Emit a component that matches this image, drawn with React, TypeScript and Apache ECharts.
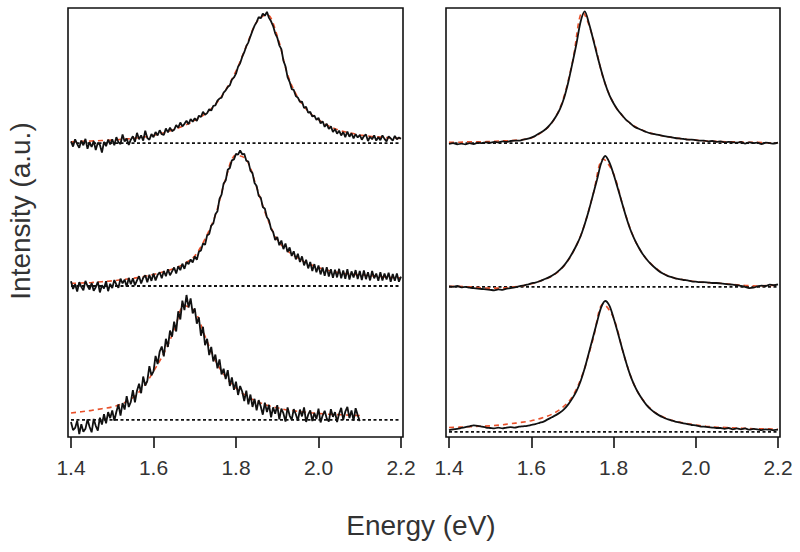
import React, { useEffect, useRef } from "react";
import * as echarts from "echarts";

// ---- axis ----
const X_MIN = 1.4;
const X_MAX = 2.2;
const X_TICK = 0.2;
const Y_MIN = 0;
const Y_MAX = 100;

// ---- sampling of the spectra (energy, eV) ----
const LEFT_START = 1.4;
const LEFT_STEP = 0.005;
const RIGHT_START = 1.4;
const RIGHT_STEP = 0.01;
const FIT_START = 1.4;
const FIT_STEP = 0.025;

// vertical offsets of the stacked spectra (a.u.)
const LEFT_OFFSETS = [68.5, 35.2, 4.0];
const RIGHT_OFFSETS = [68.5, 35.0, 1.2];

// ---- left panel measured spectra (a.u., relative to their baseline) ----
const LEFT_TOP = [
  0.4, -0.8, 0.9, -0.2, -1.1, 0.6, -0.5, 1.0, -1.3, 0.2,
  -0.9, 0.5, -1.6, 0.1, -0.4, -2.2, 0.3, -0.7, 0.8, -0.3,
  0.9, -0.5, 1.4, 0.2, -0.2, 2.0, 0.4, 1.1, -0.4, 0.8,
  1.6, 0.3, 2.4, 0.9, 1.8, 0.6, 2.9, 1.2, 0.8, 2.1,
  1.4, 2.6, 1.8, 3.0, 2.1, 1.9, 3.4, 2.5, 3.6, 2.8,
  3.1, 4.2, 3.6, 4.8, 3.9, 4.5, 5.2, 4.4, 5.6, 5.0,
  5.8, 5.2, 6.4, 6.1, 7.3, 6.6, 7.0, 7.9, 7.6, 8.7,
  8.8, 9.9, 10.4, 10.6, 11.8, 12.3, 13.1, 13.5, 14.8, 15.3,
  16.2, 17.8, 18.6, 20.1, 21.2, 22.6, 23.5, 24.9, 26.2, 27.4,
  28.2, 29.4, 29.1, 30.2, 29.7, 30.6, 29.2, 28.4, 27.3, 25.6,
  24.6, 22.8, 21.9, 19.2, 17.9, 15.4, 14.3, 12.6, 12.4, 11.0,
  10.6, 9.6, 9.7, 8.2, 8.5, 7.1, 7.3, 6.2, 6.4, 5.4,
  5.9, 4.6, 5.1, 3.8, 4.5, 3.3, 3.9, 2.6, 3.3, 2.2,
  2.9, 1.8, 2.6, 1.4, 2.7, 1.5, 2.3, 1.1, 2.1, 1.3,
  1.9, 0.8, 1.6, 2.0, 0.5, 1.5, 0.9, 1.8, 0.6, 1.4,
  0.7, 1.8, 1.0, 0.4, 1.6, 1.1, 0.6, 1.7, 0.9, 1.3,
  1.0,
];

const LEFT_MID = [
  1.1, -0.7, 0.4, -1.3, 0.9, -0.2, -1.0, 1.2, 0.0, -0.8,
  0.7, -1.1, -0.3, 1.0, -1.5, 0.2, -0.6, 1.1, -1.2, 0.5,
  -0.5, 1.4, 0.3, -0.4, 1.7, 0.6, 1.5, -0.2, 1.9, 0.4,
  1.8, 0.2, 1.3, 2.3, 0.6, 1.9, 2.5, 0.9, 2.6, 1.2,
  2.9, 1.3, 2.6, 3.2, 1.8, 3.5, 2.3, 3.9, 2.5, 3.4,
  4.3, 2.9, 4.6, 3.7, 5.2, 4.0, 5.6, 5.1, 6.2, 5.5,
  6.9, 6.1, 8.0, 8.3, 9.9, 9.6, 11.8, 12.1, 14.1, 14.6,
  16.7, 17.4, 20.3, 21.3, 23.9, 24.6, 27.1, 27.5, 29.3, 29.5,
  30.8, 30.6, 31.6, 30.7, 30.8, 29.2, 29.0, 26.9, 26.3, 24.0,
  23.3, 21.0, 20.6, 18.4, 18.0, 16.0, 15.3, 13.3, 12.6, 10.7,
  11.4, 9.5, 10.6, 8.6, 9.9, 7.9, 9.0, 7.0, 8.1, 6.2,
  7.5, 5.6, 6.9, 4.8, 6.1, 4.1, 5.6, 3.5, 5.1, 3.2,
  4.8, 2.7, 4.3, 2.4, 4.4, 2.2, 3.9, 1.9, 3.8, 2.0,
  4.0, 1.8, 3.6, 1.7, 3.9, 1.5, 3.4, 2.0, 3.7, 1.6,
  3.5, 1.4, 3.6, 1.6, 3.2, 1.3, 3.5, 1.8, 2.9, 1.2,
  3.2, 1.3, 2.9, 1.5, 3.1, 1.0, 2.8, 1.2, 2.9, 1.0,
  2.2,
];

const LEFT_BOT = [
  -0.5, -2.4, -1.9, -0.2, -3.3, -1.0, -2.8, -2.1, 0.1, -1.6,
  -2.9, 0.2, -1.4, -2.5, 0.5, -1.1, 1.3, -0.8, 1.8, 0.4,
  2.2, -0.2, 1.9, 3.6, 1.0, 3.9, 2.4, 5.5, 3.0, 4.2,
  6.9, 4.1, 6.8, 8.4, 6.2, 10.1, 8.0, 9.1, 12.5, 10.4,
  11.3, 14.9, 13.0, 15.9, 17.1, 14.8, 18.9, 17.0, 20.8, 19.4,
  22.9, 20.6, 25.3, 23.4, 27.8, 25.6, 29.1, 26.2, 28.3, 24.8,
  26.0, 22.4, 23.9, 19.6, 21.7, 17.4, 18.9, 15.1, 17.0, 13.6,
  15.2, 12.0, 14.1, 10.6, 11.9, 9.5, 11.6, 7.9, 9.9, 7.0,
  8.9, 5.8, 7.9, 6.6, 4.4, 6.8, 3.6, 5.9, 3.0, 4.9,
  2.2, 4.6, 3.1, 1.2, 4.0, 1.8, 3.5, 0.6, 2.9, 1.4,
  3.4, 0.1, 2.6, 1.5, -0.4, 2.9, 1.0, 0.0, 2.5, 1.3,
  -0.2, 2.4, 0.8, 2.9, -0.5, 1.2, 2.2, -0.3, 1.6, 0.2,
  2.6, -0.6, 1.0, 2.1, 0.3, -0.4, 2.5, 0.7, 1.8, -0.5,
  1.4, 2.8, 0.0, 1.9, 3.0, 0.4, 2.2, -0.2, 2.7, 1.1,
  -0.3,
];

// ---- right panel measured spectra ----
const RIGHT_TOP = [
  -0.2, 0.0, -0.3, -0.1, -0.3, 0.0, -0.2, 0.1, 0.0, 0.2,
  0.1, 0.3, 0.2, 0.4, 0.3, 0.5, 0.6, 0.6, 0.8, 1.0,
  1.3, 1.7, 2.3, 2.9, 3.7, 4.8, 6.2, 8.0, 10.6, 14.2,
  18.6, 23.2, 28.3, 30.7, 28.0, 24.4, 20.6, 17.0, 13.8, 11.2,
  9.3, 7.8, 6.6, 5.5, 4.7, 3.9, 3.4, 3.0, 2.6, 2.3,
  2.1, 1.9, 1.7, 1.5, 1.4, 1.2, 1.1, 1.0, 0.8, 0.8,
  0.7, 0.6, 0.6, 0.4, 0.5, 0.3, 0.4, 0.2, 0.3, 0.2,
  0.1, 0.3, -0.1, 0.2, 0.0, 0.1, -0.2, 0.1, 0.0, -0.1,
  0.1,
];

const RIGHT_MID = [
  0.1, 0.0, 0.2, -0.1, 0.0, -0.2, -0.3, -0.4, -0.5, -0.6,
  -0.7, -0.8, -0.6, -0.7, -0.4, -0.3, -0.1, 0.1, 0.3, 0.5,
  0.8, 1.0, 1.3, 1.7, 2.1, 2.6, 3.2, 4.0, 5.0, 6.3,
  7.9, 9.7, 11.8, 14.6, 17.8, 21.4, 25.0, 28.8, 30.5, 29.0,
  26.3, 23.1, 19.8, 16.5, 13.6, 11.3, 9.4, 7.8, 6.5, 5.4,
  4.5, 3.7, 3.1, 2.6, 2.3, 2.0, 1.8, 1.6, 1.5, 1.3,
  1.2, 1.1, 1.1, 1.0, 0.9, 0.9, 0.8, 0.7, 0.6, 0.5,
  0.4, 0.2, 0.0, -0.3, -0.2, 0.1, 0.3, 0.2, 0.5, 0.4,
  0.6,
];

const RIGHT_BOT = [
  0.4, 0.6, 0.7, 0.9, 1.1, 1.3, 1.5, 1.4, 1.2, 1.0,
  0.9, 0.8, 1.0, 0.8, 1.0, 1.1, 1.0, 1.2, 1.3, 1.4,
  1.6, 1.8, 2.1, 2.4, 2.9, 3.4, 3.9, 4.5, 5.3, 6.4,
  7.8, 9.5, 11.8, 14.8, 18.4, 22.0, 25.6, 29.0, 30.5, 29.4,
  26.6, 23.3, 19.8, 16.4, 13.4, 11.0, 9.1, 7.6, 6.3, 5.3,
  4.5, 3.9, 3.4, 3.0, 2.7, 2.4, 2.2, 2.0, 1.8, 1.6,
  1.5, 1.3, 1.2, 1.1, 1.0, 0.9, 0.9, 0.7, 0.9, 0.6,
  0.8, 0.6, 0.8, 0.5, 0.7, 0.6, 0.4, 0.6, 0.5, 0.4,
  0.5,
];

// ---- fitted curves (red dashed) ----
const LEFT_TOP_FIT = [
  0.3, 0.4, 0.5, 0.6, 0.7, 0.9, 1.1, 1.4, 1.8, 2.4,
  3.2, 4.1, 5.3, 6.8, 9.0, 12.4, 16.8, 22.6, 28.2, 30.0,
  25.0, 16.0, 10.6, 7.4, 5.5, 4.0, 3.0, 2.4, 1.9, 1.6,
  1.4, 1.2, 1.1,
];
const LEFT_MID_FIT = [
  0.6, 0.7, 0.8, 1.0, 1.2, 1.5, 1.8, 2.2, 2.7, 3.3,
  4.1, 5.2, 7.0, 11.0, 16.5, 25.0, 30.5, 29.5, 23.0, 16.0,
  10.8, 8.2, 6.5, 5.2, 4.3, 3.6, 3.1, 2.8, 2.6, 2.4,
  2.2, 2.0, 1.9,
];
const LEFT_BOT_FIT = [
  1.6, 1.9, 2.2, 2.6, 3.0, 3.8, 5.2, 7.6, 11.3, 15.5,
  20.8, 26.6, 25.3, 19.5, 13.8, 10.0, 7.4, 5.6, 4.3, 3.4,
  2.8, 2.3, 2.0, 1.7, 1.5, 1.3, 1.2, 1.1, 1.0,
];
const RIGHT_TOP_FIT = [
  0.2, 0.2, 0.3, 0.3, 0.4, 0.5, 0.6, 0.8, 1.2, 2.5,
  4.7, 9.5, 18.8, 30.5, 24.6, 15.2, 9.3, 6.0, 4.0, 2.8,
  2.1, 1.6, 1.2, 0.9, 0.7, 0.5, 0.4, 0.3, 0.3, 0.2,
  0.2, 0.1, 0.1,
];
const RIGHT_MID_FIT = [
  0.1, 0.1, 0.0, -0.2, -0.3, -0.3, -0.1, 0.2, 0.7, 1.5,
  2.5, 4.4, 7.8, 13.2, 21.4, 29.8, 26.4, 18.2, 11.3, 7.1,
  4.6, 2.9, 2.0, 1.6, 1.2, 1.0, 0.9, 0.7, 0.5, 0.3,
  0.2, 0.3, 0.4,
];
const RIGHT_BOT_FIT = [
  1.0, 1.1, 1.2, 1.3, 1.4, 1.6, 1.9, 2.2, 2.6, 3.2,
  4.1, 5.6, 8.2, 13.5, 21.5, 29.8, 26.6, 18.0, 11.0, 7.0,
  4.6, 3.3, 2.5, 2.0, 1.6, 1.3, 1.1, 1.0, 0.9, 0.8,
  0.7, 0.7, 0.6,
];

const X_LABEL = "Energy (eV)";
const Y_LABEL = "Intensity (a.u.)";

const FONT = "'Liberation Sans', Arial, Helvetica, sans-serif";
const TEXT_COLOR = "#333333";
const LINE_COLOR = "#111111";
const FIT_COLOR = "#e8502a";

function pairs(start: number, step: number, values: number[], offset: number) {
  return values.map((v, i) => [Number((start + i * step).toFixed(4)), v + offset]);
}

function panelSeries(
  axis: number,
  offsets: number[],
  spectra: number[][],
  fits: number[][],
  start: number,
  step: number,
  smooth: number | boolean
) {
  const out: any[] = [];
  offsets.forEach((off, k) => {
    out.push({
      type: "line",
      xAxisIndex: axis,
      yAxisIndex: axis,
      data: [
        [X_MIN, off],
        [X_MAX, off],
      ],
      symbol: "none",
      silent: true,
      z: 1,
      lineStyle: { color: LINE_COLOR, width: 1.8, type: [3, 2.5] },
    });
    out.push({
      type: "line",
      xAxisIndex: axis,
      yAxisIndex: axis,
      data: pairs(FIT_START, FIT_STEP, fits[k], off),
      symbol: "none",
      smooth: 0.35,
      silent: true,
      z: 2,
      lineStyle: { color: FIT_COLOR, width: 1.6, type: [5, 4] },
    });
    out.push({
      type: "line",
      xAxisIndex: axis,
      yAxisIndex: axis,
      data: pairs(start, step, spectra[k], off),
      symbol: "none",
      smooth,
      silent: true,
      z: 3,
      lineStyle: { color: LINE_COLOR, width: 1.8 },
    });
  });
  return out;
}

function makeX(gridIndex: number) {
  return {
    type: "value",
    gridIndex,
    min: X_MIN,
    max: X_MAX,
    interval: X_TICK,
    offset: 1,
    axisLine: { show: false },
    axisTick: { show: true, inside: false, length: 11, lineStyle: { color: LINE_COLOR, width: 1.6 } },
    axisLabel: {
      show: true,
      margin: 19,
      fontSize: 21,
      color: TEXT_COLOR,
      fontFamily: FONT,
      showMinLabel: true,
      showMaxLabel: true,
      formatter: (v: number) => v.toFixed(1),
    },
    splitLine: { show: false },
  };
}

function makeY(gridIndex: number) {
  return {
    type: "value",
    gridIndex,
    min: Y_MIN,
    max: Y_MAX,
    show: false,
    splitLine: { show: false },
  };
}

export default function App() {
  const ref = useRef<HTMLDivElement>(null);
  useEffect(() => {
    if (!ref.current) return;
    const chart = echarts.init(ref.current, null, { renderer: "svg" });
    const option: any = {
      animation: false,
      backgroundColor: "#ffffff",
      grid: [
        { left: 71, right: 399, top: 8, bottom: 115 },
        { left: 449, right: 22, top: 8, bottom: 115 },
      ],
      xAxis: [makeX(0), makeX(1)],
      yAxis: [makeY(0), makeY(1)],
      series: [
        ...panelSeries(0, LEFT_OFFSETS, [LEFT_TOP, LEFT_MID, LEFT_BOT], [LEFT_TOP_FIT, LEFT_MID_FIT, LEFT_BOT_FIT], LEFT_START, LEFT_STEP, false),
        ...panelSeries(1, RIGHT_OFFSETS, [RIGHT_TOP, RIGHT_MID, RIGHT_BOT], [RIGHT_TOP_FIT, RIGHT_MID_FIT, RIGHT_BOT_FIT], RIGHT_START, RIGHT_STEP, 0.3),
      ],
      graphic: [
        {
          type: "rect",
          shape: { x: 68, y: 8, width: 335, height: 429 },
          style: { fill: "none", stroke: LINE_COLOR, lineWidth: 1.6 },
          silent: true,
          z: 100,
        },
        {
          type: "rect",
          shape: { x: 446, y: 8, width: 334, height: 429 },
          style: { fill: "none", stroke: LINE_COLOR, lineWidth: 1.6 },
          silent: true,
          z: 100,
        },
        {
          type: "text",
          x: 421,
          y: 525,
          style: {
            text: X_LABEL,
            fontSize: 28,
            fontFamily: FONT,
            fill: TEXT_COLOR,
            align: "center",
            verticalAlign: "middle",
          },
          silent: true,
        },
        {
          type: "text",
          x: 20,
          y: 211,
          rotation: Math.PI / 2,
          style: {
            text: Y_LABEL,
            fontSize: 28,
            fontFamily: FONT,
            fill: TEXT_COLOR,
            align: "center",
            verticalAlign: "middle",
          },
          silent: true,
        },
      ],
    };
    chart.setOption(option);
    return () => chart.dispose();
  }, []);
  return (
    <div
      ref={ref}
      style={{ position: "fixed", left: 0, top: 0, width: 800, height: 552, background: "#fff" }}
    />
  );
}
